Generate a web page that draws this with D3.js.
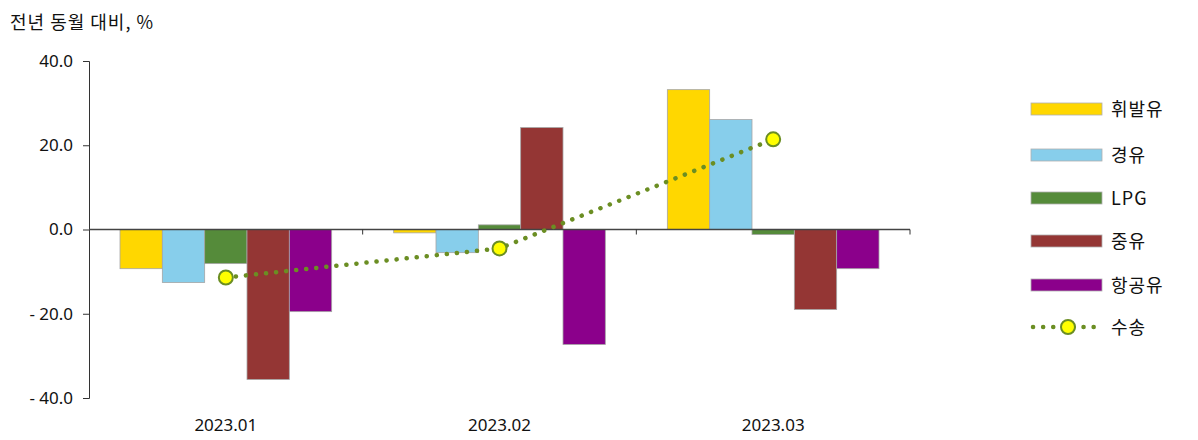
<!DOCTYPE html>
<html>
<head>
<meta charset="utf-8">
<script src="https://cdn.jsdelivr.net/npm/d3@7"></script>
<style>
  body { margin: 0; background: #fff; }
  text { font-family: "Noto Sans CJK KR", "Noto Sans", sans-serif; fill: #111; }
  .num { font-family: "Noto Sans", sans-serif; }
</style>
</head>
<body>
<div id="chart"></div>
<script>
const categories = ['2023.01', '2023.02', '2023.03']
const seriesNames = ['휘발유', '경유', 'LPG', '중유', '항공유']
const gasoline = [-9.3, -0.8, 33.2]
const diesel = [-12.6, -5.5, 26.1]
const lpg = [-8.1, 1.1, -1.2]
const heavyOil = [-35.6, 24.2, -19.0]
const jetFuel = [-19.5, -27.3, -9.3]
const transport = [-11.4, -4.5, 21.4]
const yTicks = [-40, -20, 0, 20, 40]

const colors = ['#FFD700', '#87CEEB', '#558B3A', '#943634', '#8B008B']
const barSeries = [gasoline, diesel, lpg, heavyOil, jetFuel]

const width = 1198, height = 440
const svg = d3.select('#chart').append('svg')
   .attr('width', width).attr('height', height)

const x0 = d3.scaleBand().domain(categories).range([89, 910])
const x1 = d3.scaleBand().domain(seriesNames).range([31, x0.bandwidth() - 31])
const y = d3.scaleLinear().domain([-40, 40]).range([398, 61])

// title
svg.append('text').attr('x', 10).attr('y', 29).style('font-size', '18px')
   .style('letter-spacing', '1px').text('전년 동월 대비, %')

// y axis
const yAxis = svg.append('g').attr('transform', 'translate(89,0)')
   .call(d3.axisLeft(y).tickValues(yTicks).tickSize(6)
      .tickFormat(d => d < 0 ? '- ' + d3.format('.1f')(-d) : d3.format('.1f')(d)))
yAxis.select('.domain').attr('stroke', '#333')
yAxis.selectAll('.tick line').attr('stroke', '#333')
yAxis.selectAll('.tick text').attr('x', -16).attr('class', 'num').style('font-size', '17px')
   .attr('fill', '#111')

// bars
const groups = svg.append('g').selectAll('g').data(categories).join('g')
   .attr('transform', d => `translate(${x0(d)},0)`)
groups.selectAll('rect')
   .data((c, i) => seriesNames.map((s, j) => ({ s, j, v: barSeries[j][i] })))
   .join('rect')
   .attr('x', d => x1(d.s))
   .attr('width', x1.bandwidth())
   .attr('y', d => y(Math.max(0, d.v)))
   .attr('height', d => Math.abs(y(d.v) - y(0)))
   .attr('fill', d => colors[d.j])
   .attr('stroke', '#a6a6a6').attr('stroke-width', 0.8)

// x axis at zero
const xAxis = svg.append('g').attr('transform', `translate(0,${y(0)})`)
xAxis.append('line').attr('x1', 89).attr('x2', 910).attr('stroke', '#444').attr('stroke-width', 1.5)
xAxis.selectAll('line.tk').data(categories.slice(1).map(c => x0(c)).concat([910]))
   .join('line').attr('class', 'tk')
   .attr('x1', d => d).attr('x2', d => d).attr('y1', 0).attr('y2', 5).attr('stroke', '#333')
svg.append('g').selectAll('text').data(categories).join('text')
   .attr('x', d => x0(d) + x0.bandwidth() / 2).attr('y', 431)
   .attr('text-anchor', 'middle').attr('class', 'num').style('font-size', '17px')
   .text(d => d)

// transport line
const cx = d => x0(d) + x0.bandwidth() / 2
const line = d3.line().x((d, i) => cx(categories[i])).y(d => y(d))
svg.append('path').datum(transport).attr('d', line)
   .attr('fill', 'none').attr('stroke', '#6B8E23').attr('stroke-width', 4.5)
   .attr('stroke-linecap', 'round').attr('stroke-dasharray', '0.1 10')
svg.append('g').selectAll('circle').data(transport).join('circle')
   .attr('cx', (d, i) => cx(categories[i])).attr('cy', d => y(d)).attr('r', 7)
   .attr('fill', '#FFFF00').attr('stroke', '#6B8E23').attr('stroke-width', 2)

// legend
const legend = svg.append('g').attr('transform', 'translate(1031,0)')
const ly = [109, 155, 198, 241, 285]
seriesNames.forEach((s, j) => {
   legend.append('rect').attr('x', 0).attr('y', ly[j] - 6).attr('width', 71).attr('height', 12)
      .attr('fill', colors[j]).attr('stroke', '#b0b0b0').attr('stroke-width', 0.8)
   legend.append('text').attr('x', 80).attr('y', ly[j] + 7).style('font-size', '18px')
      .style('letter-spacing', '1px').text(s)
})
legend.append('line').attr('x1', 2).attr('x2', 72).attr('y1', 327).attr('y2', 327)
   .attr('stroke', '#6B8E23').attr('stroke-width', 4.5).attr('stroke-linecap', 'round')
   .attr('stroke-dasharray', '0.1 10')
legend.append('circle').attr('cx', 37).attr('cy', 327).attr('r', 7)
   .attr('fill', '#FFFF00').attr('stroke', '#6B8E23').attr('stroke-width', 2)
legend.append('text').attr('x', 80).attr('y', 334).style('font-size', '18px')
   .style('letter-spacing', '1px').text('수송')
</script>
</body>
</html>
